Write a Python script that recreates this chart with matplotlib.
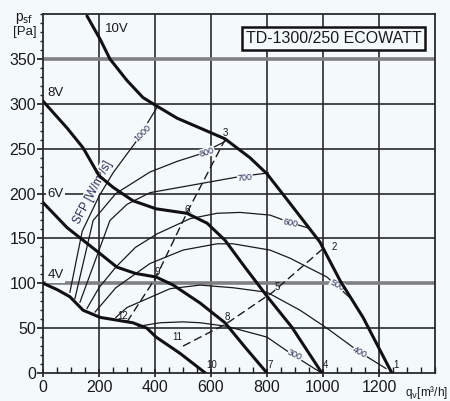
import matplotlib
matplotlib.use("Agg")
import matplotlib.pyplot as plt
from matplotlib.ticker import MultipleLocator

plt.rcParams['font.family'] = ['Liberation Sans', 'DejaVu Sans']

bg = '#f4fafc'
ink = '#1a1a1a'
navy = '#2b2b55'

# fan curves (q [m3/h], psf [Pa])
q10 = [157, 204, 239, 300, 357, 404, 479, 561, 650, 739, 800, 870, 989, 1061, 1143, 1246]
p10 = [398, 372, 350, 326, 307, 298, 284, 273, 261, 240, 222, 194, 146, 103, 62, 0]
q8 = [0, 86, 143, 200, 250, 321, 404, 514, 586, 650, 721, 804, 889, 996]
p8 = [303, 273, 251, 220, 207, 192, 183, 178, 167, 148, 118, 84, 51, 0]
q6 = [0, 86, 143, 204, 264, 330, 404, 465, 561, 650, 721, 800]
p6 = [190, 162, 148, 133, 118, 111, 107, 98, 78, 56, 29, 0]
q4 = [0, 50, 96, 143, 204, 321, 371, 404, 489, 580]
p4 = [100, 93, 85, 70, 62, 56, 50, 40, 22, 0]

# SFP curves [W/m3/s]
sfp = {
    '1000': ([96, 140, 200, 250, 335, 407], [90, 158, 197, 223, 259, 296]),
    '800': ([114, 179, 260, 382, 480, 561, 650], [83, 170, 200, 224, 236, 244, 258]),
    '700': ([132, 239, 300, 382, 561, 704, 805], [79, 170, 188, 201, 211, 219, 223]),
    '600': ([157, 200, 260, 330, 407, 525, 621, 704, 811, 880, 954],
            [72, 95, 118, 140, 155, 172, 178, 179, 176, 168, 161]),
    '500': ([186, 260, 382, 500, 621, 679, 811, 882, 1014, 1096],
            [68, 95, 122, 137, 144, 144, 137, 128, 107, 84]),
    '400': ([260, 300, 454, 561, 680, 800, 918, 1014, 1132, 1225],
            [62, 73, 94, 98, 95, 90, 70, 50, 23, 5]),
    '300': ([340, 418, 500, 561, 657, 800, 893, 995],
            [52, 56, 57, 56, 52, 40, 20, 0]),
}
sfp_lab = {'1000': (357, 267, 45), '800': (586, 246, 18), '700': (721, 218, 5),
           '600': (882, 167, -12), '500': (1050, 98, -28), '400': (1132, 23, -28),
           '300': (900, 20, -25)}

# system curves (dashed)
qa = [300, 404, 518, 650]
pa = [57, 107, 181, 260]
qb = [500, 655, 820, 1005]
pb = [30, 55, 90, 140]

pts = ['1', '2', '3', '4', '5', '6.', '7', '8', '9', '10', '11', '12']
pts_q = [1262, 1040, 652, 1010, 838, 520, 812, 657, 408, 604, 480, 284]
pts_p = [9, 140, 268, 9, 96, 182, 9, 62, 113, 9, 40, 64]

volt = ['10V', '8V', '6V', '4V']
volt_q = [221, 14, 14, 16]
volt_p = [383, 312, 200, 109]

fig = plt.figure(figsize=(4.5, 4.01), dpi=100, facecolor=bg)
ax = fig.add_axes([0.0956, 0.0698, 0.871, 0.895], facecolor=bg)
ax.set_xlim(0, 1400)
ax.set_ylim(0, 400)

for x in range(200, 1400, 200):
    ax.axvline(x, color='#2a2a2a', lw=1.2, zorder=1)
for y in range(50, 400, 50):
    if y in (100, 350):
        ax.axhline(y, color='#808080', lw=2.6, zorder=1)
    else:
        ax.axhline(y, color='#2a2a2a', lw=1.2, zorder=1)

for k, (q, p) in sfp.items():
    ax.plot(q, p, color=ink, lw=0.9, zorder=2)
    lx, ly, rot = sfp_lab[k]
    ax.text(lx, ly, k, fontsize=6.5, color=navy, rotation=rot, ha='center', va='center',
            zorder=3, bbox=dict(boxstyle='square,pad=0.05', fc=bg, ec='none'))

ax.text(176, 202, 'SFP [W/m³/s]', fontsize=8.5, color=navy, rotation=62,
        ha='center', va='center', zorder=3,
        bbox=dict(boxstyle='square,pad=0.05', fc=bg, ec='none'))

ax.plot(qa, pa, color=ink, lw=1.0, ls=(0, (6, 3)), zorder=2)
ax.plot(qb, pb, color=ink, lw=1.0, ls=(0, (6, 3)), zorder=2)

for q, p in [(q10, p10), (q8, p8), (q6, p6), (q4, p4)]:
    ax.plot(q, p, color='#111111', lw=2.2, zorder=4, solid_capstyle='round')

for t, q, p in zip(pts, pts_q, pts_p):
    ax.text(q, p, t, fontsize=7, color=ink, ha='center', va='center', zorder=5)

for t, q, p in zip(volt, volt_q, volt_p):
    ax.text(q, p, t, fontsize=9.5, color=ink, ha='left', va='center', zorder=5,
            bbox=dict(boxstyle='square,pad=0.1', fc=bg, ec='none'))

ax.text(1037, 373, 'TD-1300/250 ECOWATT', fontsize=11.5, color=ink,
        ha='center', va='center', zorder=6,
        bbox=dict(boxstyle='square,pad=0.25', fc=bg, ec='#111111', lw=1.8))

ax.set_xticks(range(0, 1400, 200))
ax.set_yticks(range(0, 400, 50))
ax.xaxis.set_minor_locator(MultipleLocator(50))
ax.yaxis.set_minor_locator(MultipleLocator(10))
ax.tick_params(axis='x', which='major', direction='inout', length=6, width=1.2,
               labelsize=11.5, pad=2, colors=ink)
ax.tick_params(axis='x', which='minor', direction='in', length=4, width=1, colors=ink)
ax.tick_params(axis='y', which='major', direction='out', length=4, width=1.2,
               labelsize=11.5, pad=1, colors=ink)
ax.tick_params(axis='y', which='minor', direction='out', length=2.5, width=1, colors=ink)
for s in ax.spines.values():
    s.set_color('#2a2a2a')
    s.set_linewidth(1.3)

fig.text(0.055, 0.955, 'p$_{\\rm sf}$', fontsize=10, color=ink, ha='center', va='center')
fig.text(0.055, 0.92, '[Pa]', fontsize=9.5, color=ink, ha='center', va='center')
fig.text(0.9, 0.022, 'q$_{\\rm v}$[m³/h]', fontsize=8.5, color=ink, ha='left', va='center')

fig.savefig('out.png', dpi=100, facecolor=bg)
